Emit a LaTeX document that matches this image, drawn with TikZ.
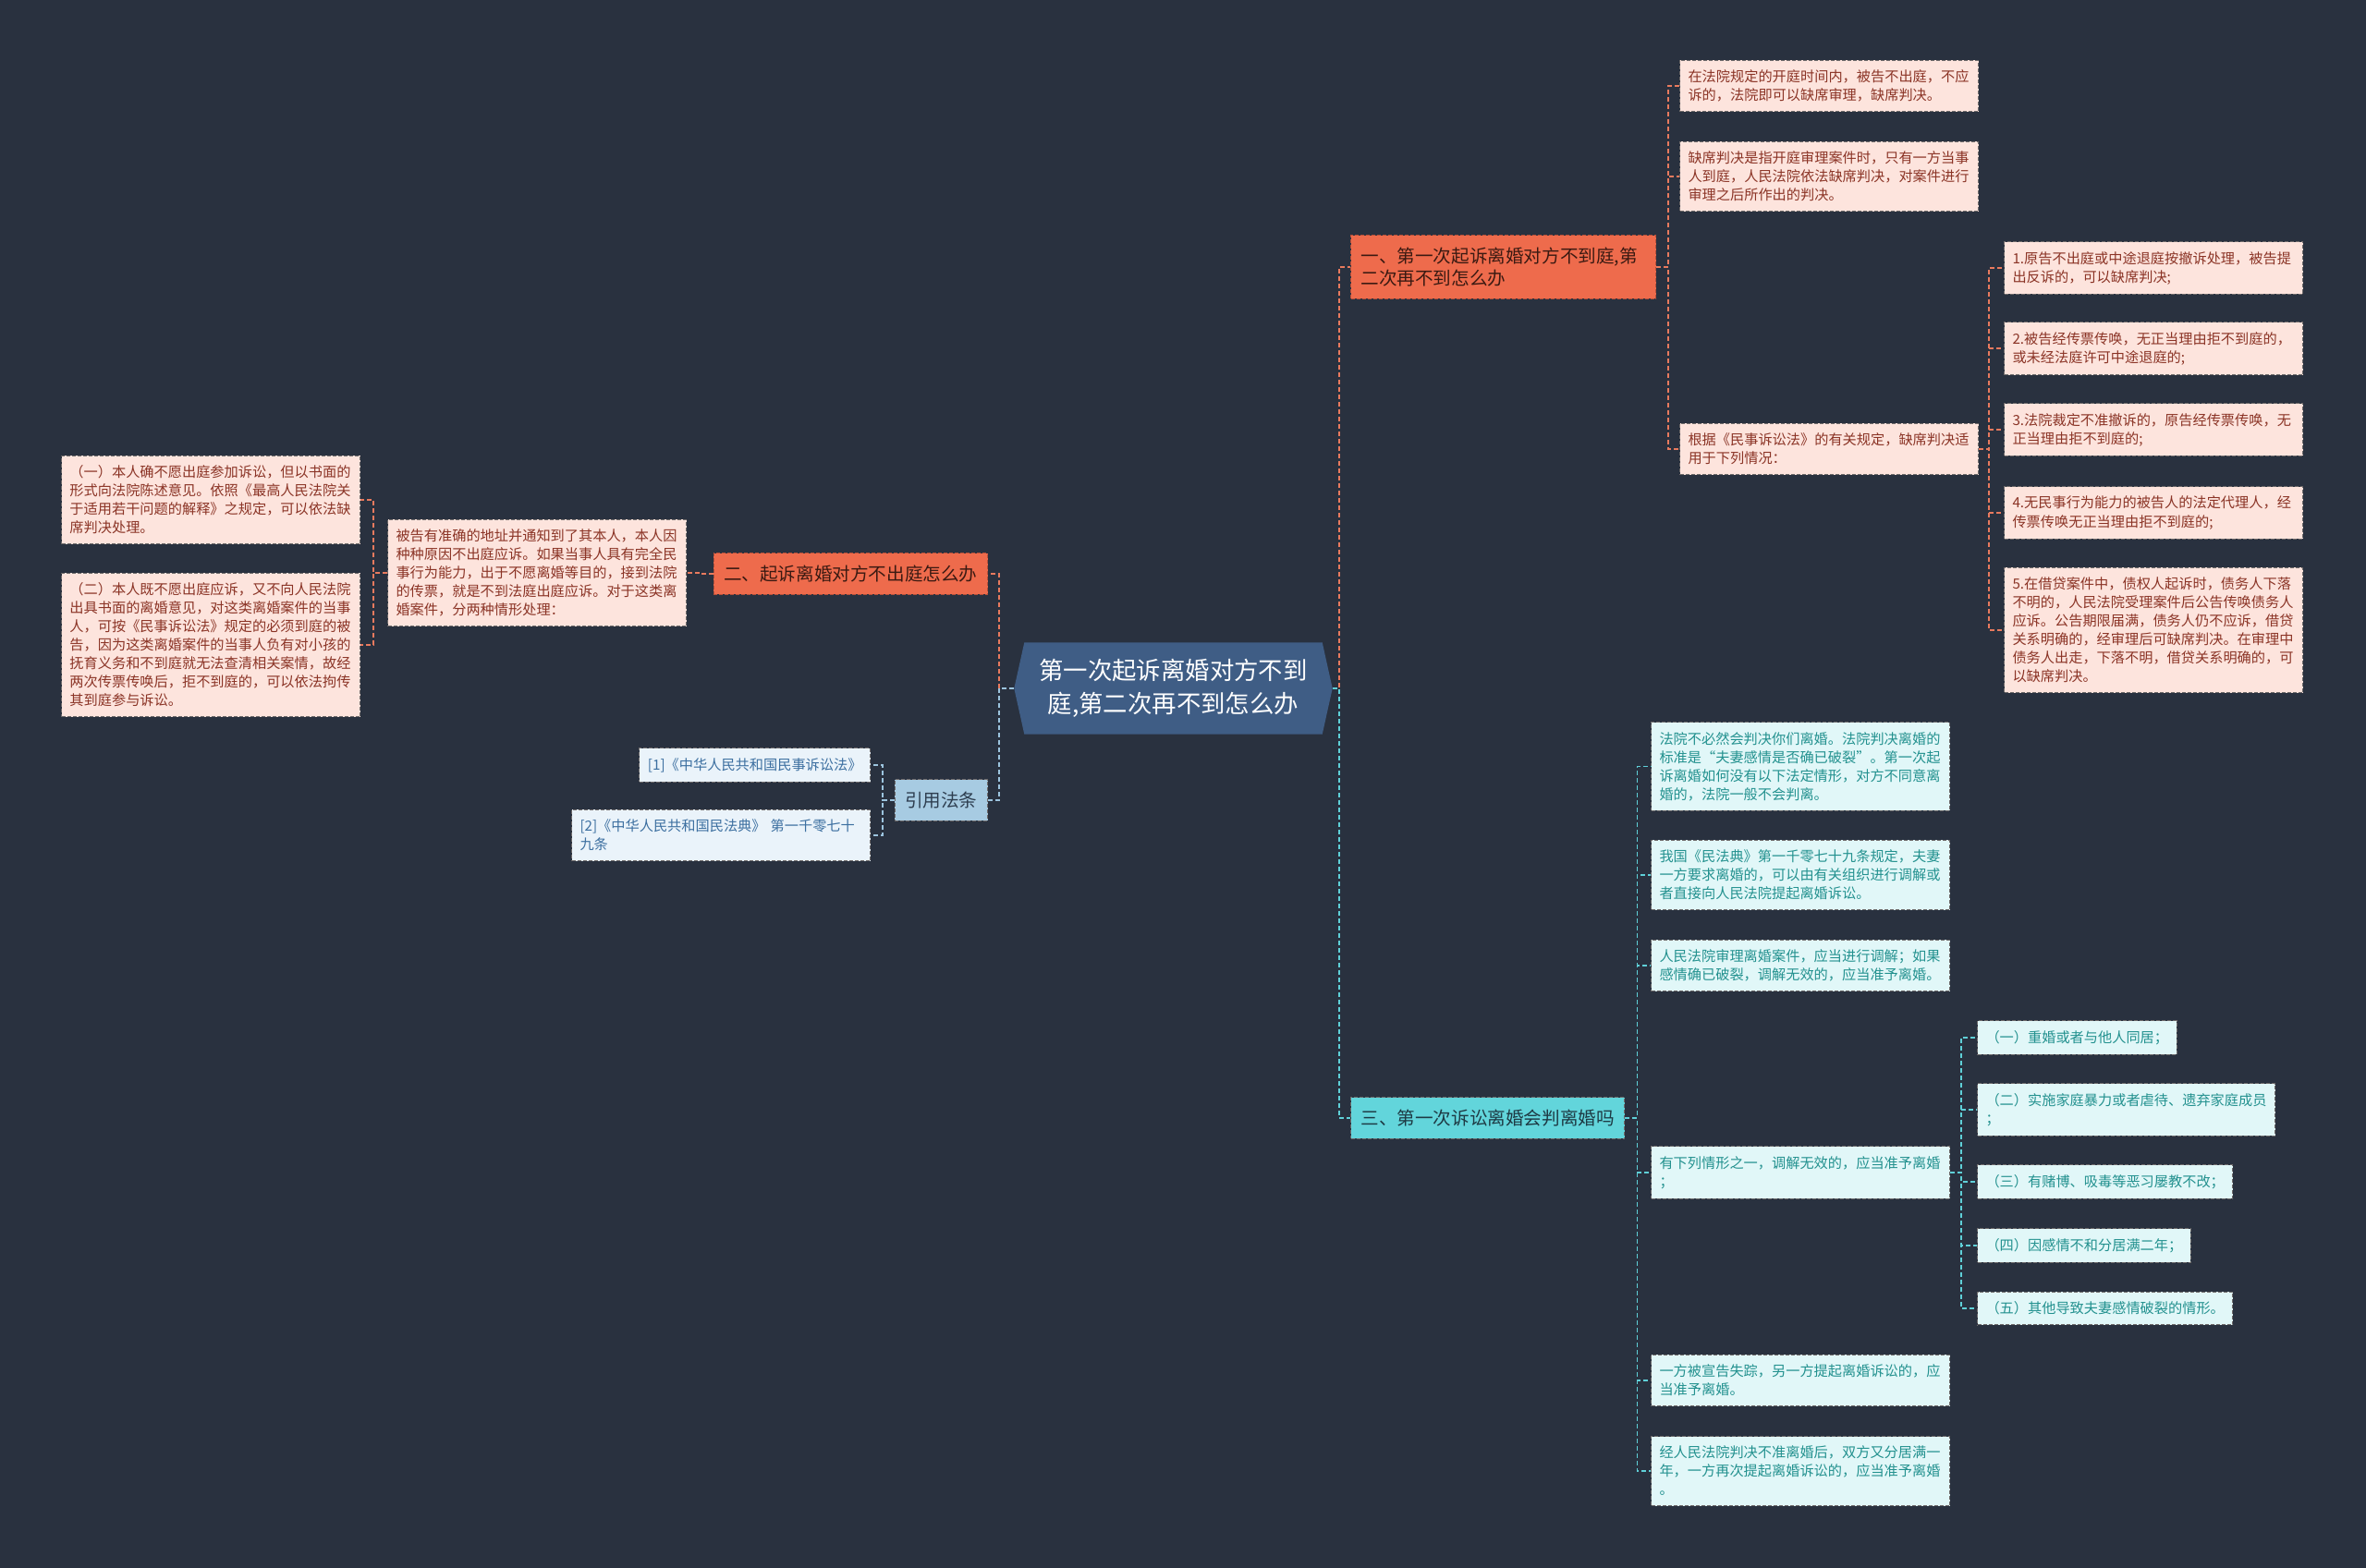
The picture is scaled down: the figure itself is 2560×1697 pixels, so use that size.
\documentclass[tikz,border=0pt]{standalone}
\usepackage{fontspec}
\setmainfont{Noto Sans CJK SC}
\usetikzlibrary{positioning, shapes.symbols}
\definecolor{bgcol}{HTML}{29313F}
\definecolor{rootfill}{HTML}{3F5D85}
\definecolor{redfill}{HTML}{EE6B4C}
\definecolor{redborder}{HTML}{B5503A}
\definecolor{redline}{HTML}{E87A5E}
\definecolor{redtext}{HTML}{3B1A12}
\definecolor{pinkfill}{HTML}{FDE4DD}
\definecolor{pinktext}{HTML}{8B3426}
\definecolor{bluefill}{HTML}{A7CBE2}
\definecolor{blueline}{HTML}{9CC4DE}
\definecolor{bluetext}{HTML}{2E3E50}
\definecolor{paleblue}{HTML}{EAF3FA}
\definecolor{citetext}{HTML}{3C6FA0}
\definecolor{cyanfill}{HTML}{62D5DB}
\definecolor{cyanline}{HTML}{5FD0D8}
\definecolor{cyantext}{HTML}{1E3A44}
\definecolor{palecyan}{HTML}{E1F7F8}
\definecolor{leaftext}{HTML}{23918F}
\definecolor{dashgray}{HTML}{6E6A6A}

\begin{document}
\begin{tikzpicture}[
    x=0.5pt, y=-0.5pt,
    rootbox/.style={signal, signal to=east and west, signal pointer angle=155, fill=rootfill,
                    text=white, font=\fontsize{13.2}{18}\selectfont, align=center,
                    minimum width=170pt, minimum height=49pt, inner xsep=8pt, inner ysep=9pt},
    topic/.style={draw=#1, dash pattern=on 2pt off 1pt, line width=0.5pt,
                  font=\fontsize{9.8}{12}\selectfont, inner xsep=5.5pt, inner ysep=6.5pt, align=left},
    redtopic/.style={topic=redborder, fill=redfill, text=redtext},
    bluetopic/.style={topic=dashgray, fill=bluefill, text=bluetext},
    cyantopic/.style={topic=dashgray, fill=cyanfill, text=cyantext},
    leaf/.style={draw=dashgray, dash pattern=on 2pt off 1pt, line width=0.5pt,
                 font=\fontsize{7.6}{10}\selectfont, inner xsep=4.5pt, inner ysep=5.3pt, align=left},
    pinkleaf/.style={leaf, fill=pinkfill, text=pinktext},
    citeleaf/.style={leaf, fill=paleblue, text=citetext},
    cyanleaf/.style={leaf, fill=palecyan, text=leaftext},
    wide/.style={text width=152.5pt},
    link/.style={draw=#1, line width=0.9pt, dash pattern=on 2.5pt off 1.5pt},
]

\useasboundingbox (0,0) rectangle (2560,1697);
\fill[bgcol] (0,0) rectangle (2560,1697);

% ============================================================
% root
% ============================================================
\node[rootbox] (root) at (1269.5,745) {第一次起诉离婚对方不到\\庭,第二次再不到怎么办};

% ============================================================
% branch one (right, top)
% ============================================================
\node[redtopic, anchor=west, text width=154pt] (b1) at (1461,289) {一、第一次起诉离婚对方不到庭,第\\二次再不到怎么办};

\node[pinkleaf, wide, anchor=west] (l1) at (1817,93) {在法院规定的开庭时间内，被告不出庭，不应\\诉的，法院即可以缺席审理，缺席判决。};
\node[pinkleaf, wide, anchor=west] (l2) at (1817,191) {缺席判决是指开庭审理案件时，只有一方当事\\人到庭，人民法院依法缺席判决，对案件进行\\审理之后所作出的判决。};
\node[pinkleaf, wide, anchor=west] (l3) at (1817,486) {根据《民事诉讼法》的有关规定，缺席判决适\\用于下列情况：};

\node[pinkleaf, wide, anchor=west] (s1) at (2168,290) {1.原告不出庭或中途退庭按撤诉处理，被告提\\出反诉的，可以缺席判决;};
\node[pinkleaf, wide, anchor=west] (s2) at (2168,377) {2.被告经传票传唤，无正当理由拒不到庭的，\\或未经法庭许可中途退庭的;};
\node[pinkleaf, wide, anchor=west] (s3) at (2168,465) {3.法院裁定不准撤诉的，原告经传票传唤，无\\正当理由拒不到庭的;};
\node[pinkleaf, wide, anchor=west] (s4) at (2168,555) {4.无民事行为能力的被告人的法定代理人，经\\传票传唤无正当理由拒不到庭的;};
\node[pinkleaf, wide, anchor=west] (s5) at (2168,682) {5.在借贷案件中，债权人起诉时，债务人下落\\不明的，人民法院受理案件后公告传唤债务人\\应诉。公告期限届满，债务人仍不应诉，借贷\\关系明确的，经审理后可缺席判决。在审理中\\债务人出走，下落不明，借贷关系明确的，可\\以缺席判决。};

\draw[link=redline] (root.east) -- ++(7,0) |- (b1.west);
\draw[link=redline] (b1.east) -- ++(13,0) |- (l1.west);
\draw[link=redline] (b1.east) -- ++(13,0) |- (l2.west);
\draw[link=redline] (b1.east) -- ++(13,0) |- (l3.west);
\draw[link=redline] (l3.east) -- ++(11,0) |- (s1.west);
\draw[link=redline] (l3.east) -- ++(11,0) |- (s2.west);
\draw[link=redline] (l3.east) -- ++(11,0) |- (s3.west);
\draw[link=redline] (l3.east) -- ++(11,0) |- (s4.west);
\draw[link=redline] (l3.east) -- ++(11,0) |- (s5.west);

% ============================================================
% branch two (left)
% ============================================================
\node[redtopic, anchor=east] (b2) at (1069,621) {二、起诉离婚对方不出庭怎么办};

\node[pinkleaf, wide, anchor=east] (ll) at (743,620) {被告有准确的地址并通知到了其本人，本人因\\种种原因不出庭应诉。如果当事人具有完全民\\事行为能力，出于不愿离婚等目的，接到法院\\的传票，就是不到法庭出庭应诉。对于这类离\\婚案件，分两种情形处理：};
\node[pinkleaf, wide, anchor=east] (la) at (390,541) {（一）本人确不愿出庭参加诉讼，但以书面的\\形式向法院陈述意见。依照《最高人民法院关\\于适用若干问题的解释》之规定，可以依法缺\\席判决处理。};
\node[pinkleaf, wide, anchor=east] (lb) at (390,698) {（二）本人既不愿出庭应诉，又不向人民法院\\出具书面的离婚意见，对这类离婚案件的当事\\人，可按《民事诉讼法》规定的必须到庭的被\\告，因为这类离婚案件的当事人负有对小孩的\\抚育义务和不到庭就无法查清相关案情，故经\\两次传票传唤后，拒不到庭的，可以依法拘传\\其到庭参与诉讼。};

\draw[link=redline] (root.west) -- ++(-16,0) |- (b2.east);
\draw[link=redline] (b2.west) -- ++(-15,0) |- (ll.east);
\draw[link=redline] (ll.west) -- ++(-15,0) |- (la.east);
\draw[link=redline] (ll.west) -- ++(-15,0) |- (lb.east);

% ============================================================
% cited laws (left)
% ============================================================
\node[bluetopic, anchor=east] (cite) at (1069,866) {引用法条};

\node[citeleaf, anchor=east] (c1) at (942,828) {[1]《中华人民共和国民事诉讼法》};
\node[citeleaf, wide, anchor=east] (c2) at (942,904) {[2]《中华人民共和国民法典》 第一千零七十\\九条};

\draw[link=blueline] (root.west) -- ++(-16,0) |- (cite.east);
\draw[link=blueline] (cite.west) -- ++(-13,0) |- (c1.east);
\draw[link=blueline] (cite.west) -- ++(-13,0) |- (c2.east);

% ============================================================
% branch three (right, bottom)
% ============================================================
\node[cyantopic, anchor=west] (b4) at (1461,1210) {三、第一次诉讼离婚会判离婚吗};

\node[cyanleaf, wide, anchor=west] (t1) at (1786,829.5) {法院不必然会判决你们离婚。法院判决离婚的\\标准是“夫妻感情是否确已破裂”。第一次起\\诉离婚如何没有以下法定情形，对方不同意离\\婚的，法院一般不会判离。};
\node[cyanleaf, wide, anchor=west] (t2) at (1786,947) {我国《民法典》第一千零七十九条规定，夫妻\\一方要求离婚的，可以由有关组织进行调解或\\者直接向人民法院提起离婚诉讼。};
\node[cyanleaf, wide, anchor=west] (t3) at (1786,1045) {人民法院审理离婚案件，应当进行调解；如果\\感情确已破裂，调解无效的，应当准予离婚。};
\node[cyanleaf, wide, anchor=west] (t4) at (1786,1269) {有下列情形之一，调解无效的，应当准予离婚\\；};
\node[cyanleaf, wide, anchor=west] (t5) at (1786,1494) {一方被宣告失踪，另一方提起离婚诉讼的，应\\当准予离婚。};
\node[cyanleaf, wide, anchor=west] (t6) at (1786,1592) {经人民法院判决不准离婚后，双方又分居满一\\年，一方再次提起离婚诉讼的，应当准予离婚\\。};

\node[cyanleaf, anchor=west] (q1) at (2139,1123) {（一）重婚或者与他人同居；};
\node[cyanleaf, anchor=west] (q2) at (2139,1201) {（二）实施家庭暴力或者虐待、遗弃家庭成员\\；};
\node[cyanleaf, anchor=west] (q3) at (2139,1279) {（三）有赌博、吸毒等恶习屡教不改；};
\node[cyanleaf, anchor=west] (q4) at (2139,1348) {（四）因感情不和分居满二年；};
\node[cyanleaf, anchor=west] (q5) at (2139,1416) {（五）其他导致夫妻感情破裂的情形。};

\draw[link=cyanline] (root.east) -- ++(7,0) |- (b4.west);
\draw[link=cyanline] (b4.east) -- ++(13,0) |- (t1.west);
\draw[link=cyanline] (b4.east) -- ++(13,0) |- (t2.west);
\draw[link=cyanline] (b4.east) -- ++(13,0) |- (t3.west);
\draw[link=cyanline] (b4.east) -- ++(13,0) |- (t4.west);
\draw[link=cyanline] (b4.east) -- ++(13,0) |- (t5.west);
\draw[link=cyanline] (b4.east) -- ++(13,0) |- (t6.west);
\draw[link=cyanline] (t4.east) -- ++(12,0) |- (q1.west);
\draw[link=cyanline] (t4.east) -- ++(12,0) |- (q2.west);
\draw[link=cyanline] (t4.east) -- ++(12,0) |- (q3.west);
\draw[link=cyanline] (t4.east) -- ++(12,0) |- (q4.west);
\draw[link=cyanline] (t4.east) -- ++(12,0) |- (q5.west);

\end{tikzpicture}
\end{document}
